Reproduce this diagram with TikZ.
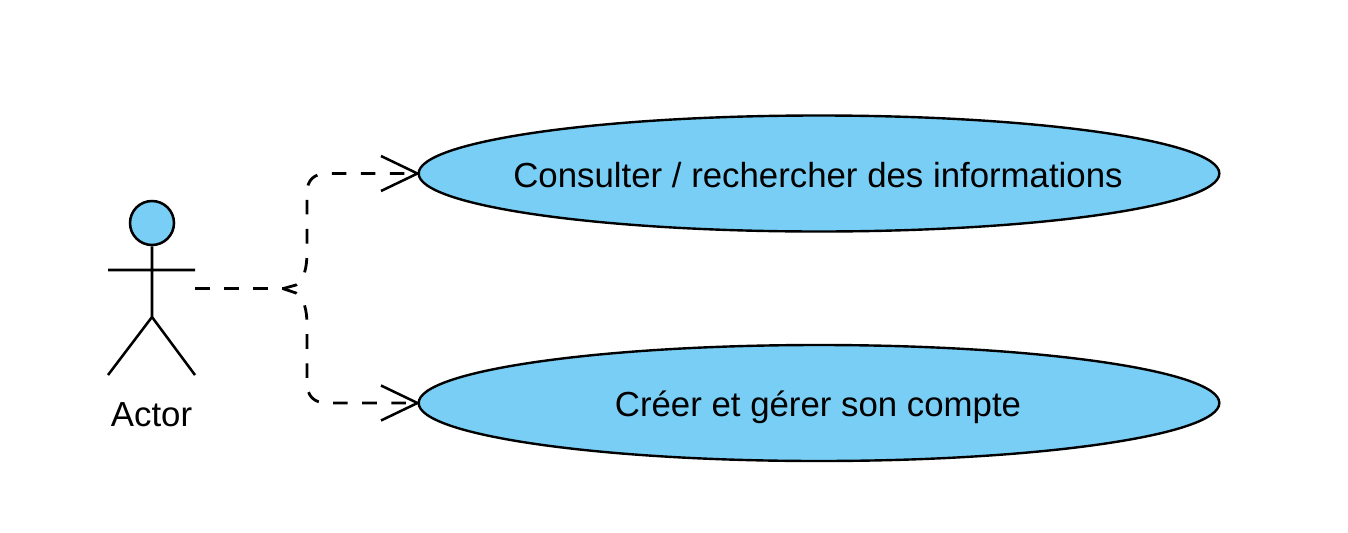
\documentclass[tikz,border=0pt]{standalone}
\usepackage{fontspec}
\setmainfont{Liberation Sans}
\usetikzlibrary{shapes.geometric,arrows.meta}
\definecolor{fillblue}{HTML}{79CEF6}
\tikzset{
  usecase/.style={ellipse,draw=black,fill=fillblue,line width=1.8pt,minimum width=600.5pt,minimum height=87pt,inner sep=0pt},
  uctext/.style={anchor=base,inner sep=0pt,font=\fontsize{26.1pt}{30pt}\selectfont},
  limb/.style={draw=black,line width=1.9pt,line cap=butt},
  dep/.style={draw=black,line width=2.1pt,dash pattern=on 10.9pt off 10.9pt},
  openhead/.style={draw=black,line width=1.9pt,miter limit=10}
}
\begin{document}
\begin{tikzpicture}[x=0.75pt,y=-0.75pt]
\useasboundingbox (0,0) rectangle (1348,532);
\node[usecase] (a) at (819,173.5) {};
\node[usecase] (b) at (819,403) {};
\node[uctext] (at) at (818,187) {Consulter / rechercher des informations};
\node[uctext] (bt) at (818,416) {Créer et gérer son compte};
\node[circle,draw=black,fill=fillblue,line width=1.9pt,minimum size=33pt,inner sep=0pt] (head) at (152,223) {};
\coordinate (neck) at (152,317);
\coordinate (armL) at (108,270);
\coordinate (armR) at (195,270);
\coordinate (legL) at (108,375);
\coordinate (legR) at (195,375);
\coordinate (hand) at (195,288.6);
\coordinate (fork) at (283,288.6);
\coordinate (tipU) at (296,285);
\coordinate (tipD) at (296,293);
\path[limb] (head.south) -- (neck) (armL) -- (armR) (neck) -- (legL) (neck) -- (legR);
\node[uctext] (actor) at (151.5,426) {Actor};
\draw[dep] (hand) -- (fork);
\draw[dep] (fork) -- (tipU) .. controls (304,280) and (307,268) .. (307,252) -- (307,193) .. controls (307,180) and (314,173.5) .. (327,173.5) -- (a.west);
\draw[dep] (fork) -- (tipD) .. controls (304,298) and (307,310) .. (307,325) -- (307,383) .. controls (307,396) and (314,403) .. (327,403) -- (b.west);
\draw[openhead] (381,156) -- (a.west) -- (381,191);
\draw[openhead] (381,385.5) -- (b.west) -- (381,420.5);
\end{tikzpicture}
\end{document}
